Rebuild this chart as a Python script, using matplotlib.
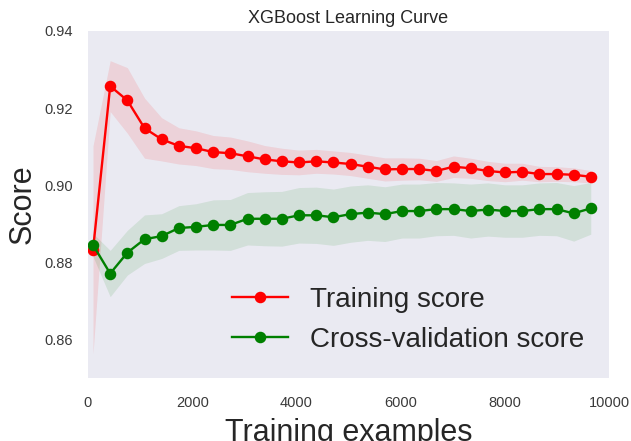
import matplotlib
matplotlib.use("Agg")
import matplotlib.pyplot as plt
import numpy as np

train_sizes = [96, 426, 755, 1085, 1414, 1744, 2073, 2403, 2732, 3062,
               3391, 3721, 4050, 4380, 4709, 5039, 5368, 5698, 6027, 6357,
               6686, 7016, 7345, 7675, 8004, 8334, 8663, 8993, 9322, 9650]

train_mean = [0.8832, 0.9257, 0.9220, 0.9148, 0.9119, 0.9102, 0.9096, 0.9086, 0.9083, 0.9075,
              0.9067, 0.9062, 0.9059, 0.9062, 0.9059, 0.9055, 0.9048, 0.9041, 0.9042, 0.9042,
              0.9037, 0.9048, 0.9044, 0.9037, 0.9033, 0.9035, 0.9029, 0.9029, 0.9027, 0.9022]
train_std = [0.0270, 0.0066, 0.0085, 0.0078, 0.0056, 0.0047, 0.0045, 0.0043, 0.0042, 0.0040,
             0.0036, 0.0034, 0.0032, 0.0031, 0.0030, 0.0030, 0.0030, 0.0030, 0.0029, 0.0028,
             0.0027, 0.0028, 0.0026, 0.0025, 0.0024, 0.0022, 0.0020, 0.0019, 0.0018, 0.0016]

test_mean = [0.8845, 0.8771, 0.8825, 0.8860, 0.8868, 0.8889, 0.8892, 0.8897, 0.8897, 0.8913,
             0.8913, 0.8913, 0.8922, 0.8922, 0.8917, 0.8925, 0.8929, 0.8925, 0.8933, 0.8933,
             0.8938, 0.8938, 0.8933, 0.8937, 0.8933, 0.8933, 0.8938, 0.8938, 0.8927, 0.8940]
test_std = [0.0030, 0.0060, 0.0058, 0.0063, 0.0058, 0.0058, 0.0060, 0.0065, 0.0066, 0.0068,
            0.0070, 0.0071, 0.0072, 0.0073, 0.0073, 0.0073, 0.0072, 0.0071, 0.0070, 0.0070,
            0.0069, 0.0068, 0.0070, 0.0069, 0.0068, 0.0068, 0.0068, 0.0069, 0.0072, 0.0067]

x_ticks = [0, 2000, 4000, 6000, 8000, 10000]
y_ticks = [0.86, 0.88, 0.90, 0.92, 0.94]

plt.rcParams['font.family'] = ['Liberation Sans', 'DejaVu Sans']

fig = plt.figure(figsize=(6.31, 4.41), dpi=100)
ax = fig.add_axes([88/631, 1 - 378/441, (609 - 88)/631, (378 - 31)/441])
ax.set_facecolor('#EAEAF2')
for s in ax.spines.values():
    s.set_visible(False)

x = np.array(train_sizes)
tm, ts = np.array(train_mean), np.array(train_std)
vm, vs = np.array(test_mean), np.array(test_std)

ax.fill_between(x, tm - ts, tm + ts, alpha=0.1, color='r', linewidth=0)
ax.fill_between(x, vm - vs, vm + vs, alpha=0.1, color='g', linewidth=0)
ax.plot(x, tm, 'o-', color='r', label='Training score', linewidth=1.7, markersize=7.3)
ax.plot(x, vm, 'o-', color='g', label='Cross-validation score', linewidth=1.7, markersize=7.3)

ax.set_xlim(0, 10000)
ax.set_ylim(0.85, 0.94)
ax.set_xticks(x_ticks)
ax.set_yticks(y_ticks)
ax.set_xticklabels([str(t) for t in x_ticks])
ax.set_yticklabels(['%.2f' % t for t in y_ticks])
ax.tick_params(length=0, labelsize=10.5, colors='#3a3a3a', pad=11)
ax.tick_params(axis='x', pad=13)

ax.set_title('XGBoost Learning Curve', fontsize=13, color='#262626', pad=6)
ax.set_xlabel('Training examples', fontsize=22, color='#262626', labelpad=6)
ax.set_ylabel('Score', fontsize=22, color='#262626', labelpad=5)

leg = ax.legend(loc='lower right', fontsize=20, frameon=False, numpoints=1)
for t in leg.get_texts():
    t.set_color('#262626')

fig.savefig('out.png', dpi=100)
